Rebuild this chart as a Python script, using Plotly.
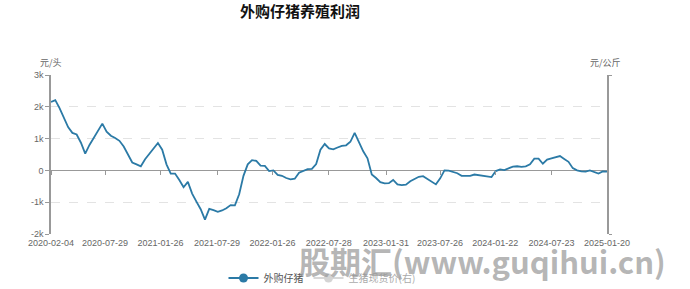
import pandas as pd
import plotly.graph_objects as go

# 外购仔猪养殖利润 (元/头), roughly bi-weekly readings from 2020-02-04 to 2025-01-20
profit = [
    2150, 2210, 1960, 1640, 1360, 1180, 1130, 870, 530, 800,
    1030, 1270, 1470, 1220, 1090, 1020, 930, 750, 510, 250,
    190, 130, 350, 520, 700, 860, 650, 190, -100, -100,
    -300, -530, -360, -730, -980, -1220, -1550, -1210, -1250, -1300,
    -1260, -1190, -1090, -1100, -750, -170, 190, 320, 300, 150,
    140, -20, 0, -140, -170, -240, -280, -260, -70, -10,
    40, 50, 200, 650, 830, 690, 660, 720, 770, 790,
    900, 1180, 880, 600, 380, -130, -240, -370, -410, -400,
    -300, -440, -460, -450, -340, -270, -200, -180, -270, -360,
    -440, -250, 0, -10, -40, -90, -170, -170, -170, -130,
    -150, -180, -190, -210, -20, 30, 10, 70, 120, 130,
    110, 130, 190, 370, 370, 210, 340, 380, 410, 450,
    360, 270, 70, 0, -30, -40, 0, -50, -100, -30,
    -40,
]
start_date = "2020-02-04"
end_date = "2025-01-20"
dates = pd.date_range(start=start_date, end=end_date, periods=len(profit))

tick_dates = [
    "2020-02-04", "2020-07-29", "2021-01-26", "2021-07-29", "2022-01-26",
    "2022-07-28", "2023-01-31", "2023-07-26", "2024-01-22", "2024-07-23",
    "2025-01-20",
]
y_ticks = [-2000, -1000, 0, 1000, 2000, 3000]
y_tick_text = ["-2k", "-1k", "0", "1k", "2k", "3k"]

series_name = "外购仔猪"
hidden_name = "生猪现货价(右)"
title_text = "外购仔猪养殖利润"

line_color = "#2b7aa6"
axis_color = "#999999"
grid_color = "#e3e3e3"
label_color = "#666666"
font_family = "Liberation Sans, Noto Sans CJK SC, sans-serif"
cjk_family = "Noto Sans CJK SC, sans-serif"

fig = go.Figure()

fig.add_trace(go.Scatter(
    x=dates, y=profit, mode="lines", name=series_name, showlegend=False,
    line=dict(color=line_color, width=1.8), hoverinfo="x+y",
))
# legend entry for main series (line + marker symbol)
fig.add_trace(go.Scatter(
    x=[None], y=[None], mode="lines+markers", name=series_name,
    line=dict(color=line_color, width=1.8),
    marker=dict(color=line_color, size=9, symbol="circle"),
))
# hidden right-axis series (shown as toggled-off legend entry)
fig.add_trace(go.Scatter(
    x=[None], y=[None], mode="lines+markers", name=hidden_name, yaxis="y2",
    visible="legendonly",
    line=dict(color="#aaaaaa", width=1.8),
    marker=dict(color="#aaaaaa", size=9, symbol="circle"),
))
# helper trace for tick marks along the zero line
fig.add_trace(go.Scatter(
    x=[None], y=[None], xaxis="x2", showlegend=False, hoverinfo="skip",
))

fig.update_layout(
    width=690, height=289,
    margin=dict(l=51, r=83, t=75, b=55, autoexpand=False),
    paper_bgcolor="white", plot_bgcolor="white",
    font=dict(family=font_family, size=9, color=label_color),
    title=dict(
        text="<b>" + title_text + "</b>", x=300 / 690, xanchor="center",
        y=1 - 12 / 289, yanchor="middle", xref="container", yref="container",
        font=dict(family=cjk_family, size=15, color="#111111"),
    ),
    xaxis=dict(
        type="date", range=[start_date, end_date],
        tickvals=tick_dates, ticktext=tick_dates,
        showgrid=False, showline=False, zeroline=False, ticks="",
        tickfont=dict(size=9, color=label_color), ticklabelstandoff=2,
    ),
    xaxis2=dict(
        type="date", overlaying="x", matches="x", anchor="free",
        position=0.4, tickvals=tick_dates, showticklabels=False,
        ticks="outside", ticklen=4, tickcolor=axis_color,
        showgrid=False, showline=False, zeroline=False,
    ),
    yaxis=dict(
        range=[-2000, 3000], tickvals=y_ticks, ticktext=y_tick_text,
        showgrid=True, gridcolor=grid_color, griddash="dash", gridwidth=1,
        zeroline=True, zerolinecolor=axis_color, zerolinewidth=1,
        showline=True, linecolor=axis_color, linewidth=1.5,
        ticks="outside", ticklen=4, tickcolor=axis_color,
        tickfont=dict(size=9, color=label_color),
    ),
    yaxis2=dict(
        overlaying="y", side="right", range=[0, 1],
        showline=True, linecolor=axis_color, linewidth=1.5,
        showgrid=False, zeroline=False, showticklabels=False,
        tickvals=[0, 1], ticks="outside", ticklen=3, tickcolor=axis_color,
    ),
    legend=dict(
        orientation="h", x=322 / 690, xanchor="center", xref="container",
        y=1 - 278 / 289, yanchor="middle", yref="container",
        font=dict(family=cjk_family, size=10, color="#555555"),
        itemwidth=30, bgcolor="rgba(0,0,0,0)", tracegroupgap=0,
    ),
    annotations=[
        dict(text="元/头", xref="paper", yref="paper", x=0, y=(234 - 62) / 159,
             xanchor="center", yanchor="middle", showarrow=False,
             font=dict(family=cjk_family, size=9, color=label_color)),
        dict(text="元/公斤", xref="paper", yref="paper", x=0.998, y=(234 - 62) / 159,
             xanchor="center", yanchor="middle", showarrow=False,
             font=dict(family=cjk_family, size=9, color=label_color)),
        dict(text="<b>股期汇(www.guqihui.cn)</b>", xref="paper", yref="paper",
             x=(482 - 51) / 556, y=(234 - 260) / 159,
             xanchor="center", yanchor="middle", showarrow=False,
             font=dict(family=cjk_family, size=31, color="rgba(150,150,150,0.7)")),
    ],
)

fig.write_html("out.html")
